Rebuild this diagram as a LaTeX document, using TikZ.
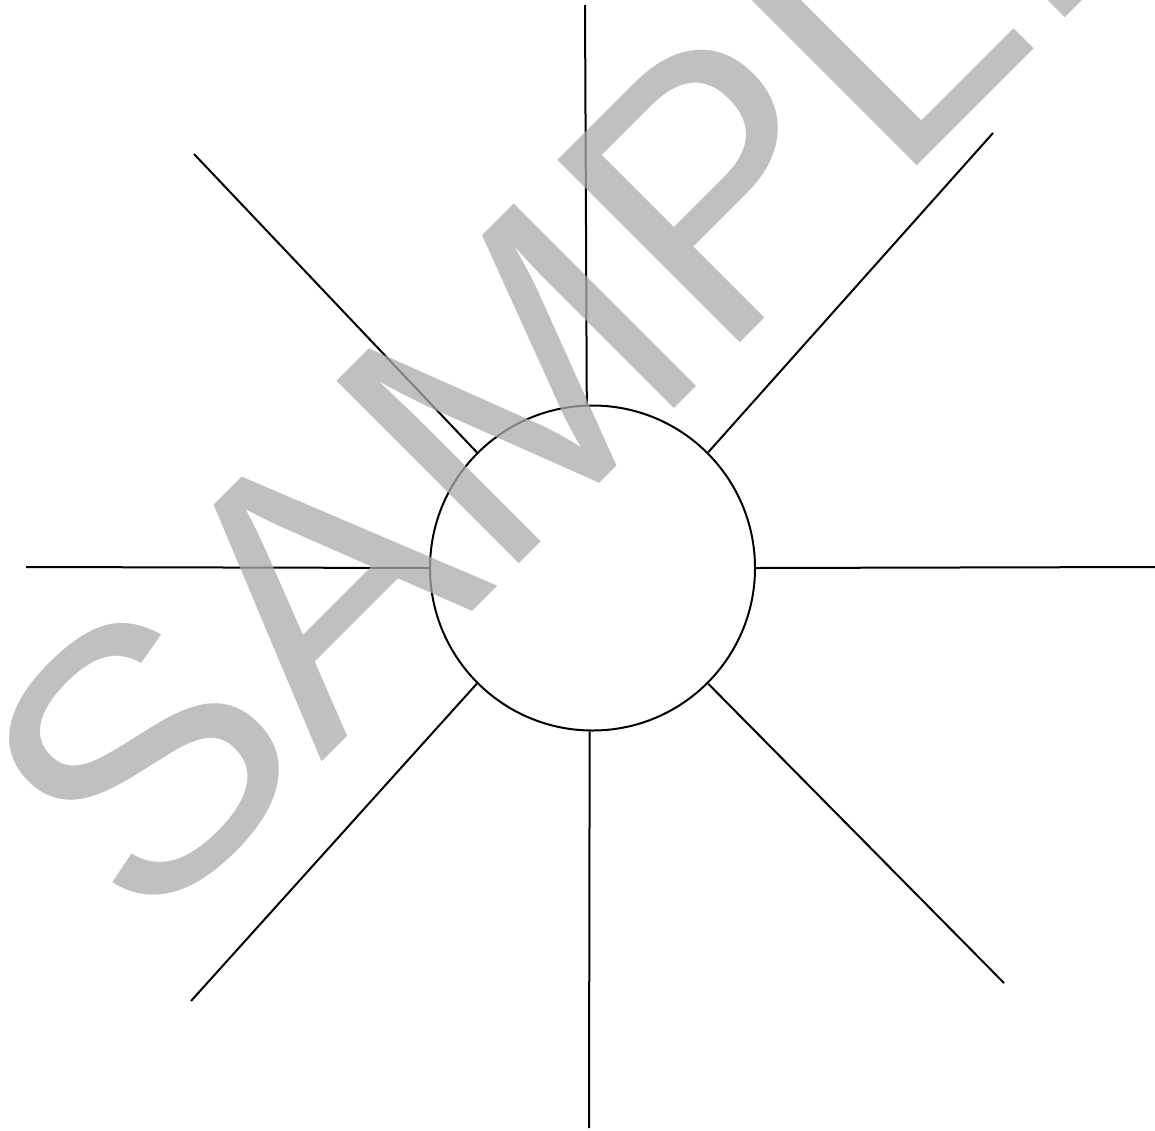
\documentclass[tikz,border=0pt]{standalone}
\usepackage{fontspec}
\setmainfont{Liberation Sans}
\definecolor{wmgray}{HTML}{ABABAB}
\begin{document}
\begin{tikzpicture}[x=1pt,y=-1pt,
  spoke/.style={draw=black,line width=2pt},
  hub/.style={circle,draw=black,line width=2pt,fill=white,minimum size=325pt,inner sep=0pt},
  watermark/.style={text=wmgray,text opacity=0.75,inner sep=0pt,anchor=base west,rotate=45,
    font=\fontsize{375}{375}\selectfont}]
\useasboundingbox (0,0) rectangle (1155,1130);
\node[hub] (c) at (592.5,568) {};
\coordinate (t) at (585,5);
\coordinate (b) at (589,1128);
\coordinate (l) at (26,567);
\coordinate (r) at (1155,567);
\coordinate (ul) at (194,154);
\coordinate (ur) at (993,133);
\coordinate (ll) at (191,1001);
\coordinate (lr) at (1004,983);
\draw[spoke] (t) -- (c.92.8);
\draw[spoke] (b) -- (c.-91.4);
\draw[spoke] (l) -- (c.180);
\draw[spoke] (r) -- (c.0);
\draw[spoke] (ul) -- (c.135.7);
\draw[spoke] (ur) -- (c.45);
\draw[spoke] (ll) -- (c.225);
\draw[spoke] (lr) -- (c.-45.5);
\node[watermark] (wm) at (144,939) {SAMPLE};
\end{tikzpicture}
\end{document}
